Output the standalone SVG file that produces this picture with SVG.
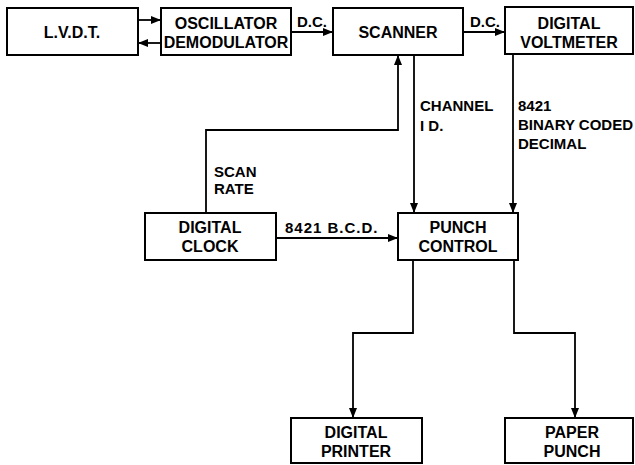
<svg xmlns="http://www.w3.org/2000/svg" width="635" height="465" viewBox="0 0 635 465">
<defs>
<marker id="ah" markerWidth="10" markerHeight="8" refX="9" refY="4" orient="auto" markerUnits="userSpaceOnUse">
<path d="M0,0 L10,4 L0,8 Z" fill="#000"/>
</marker>
<style>
.box{fill:#fff;stroke:#000;stroke-width:2}
.t{font-family:"Liberation Sans",Arial,sans-serif;font-weight:bold;font-size:16px;text-anchor:middle;fill:#000}
.l{font-family:"Liberation Sans",Arial,sans-serif;font-weight:bold;font-size:15px;fill:#000}
.c{fill:none;stroke:#000;stroke-width:1.8}
</style>
</defs>
<rect width="635" height="465" fill="#fff"/>
<g id="connectors">
<path class="c" d="M138,20 H160" marker-end="url(#ah)"/>
<path class="c" d="M161,43 H139" marker-end="url(#ah)"/>
<path class="c" d="M291,32 H332" marker-end="url(#ah)"/>
<path class="c" d="M463,32 H504" marker-end="url(#ah)"/>
<path class="c" d="M206,213 V130 H398 V56" marker-end="url(#ah)"/>
<path class="c" d="M414,55 V212" marker-end="url(#ah)"/>
<path class="c" d="M513,54 V212" marker-end="url(#ah)"/>
<path class="c" d="M276,238 H397" marker-end="url(#ah)"/>
<path class="c" d="M413,260 V333 H353 V417" marker-end="url(#ah)"/>
<path class="c" d="M514,260 V333 H575 V417" marker-end="url(#ah)"/>
<text class="l" x="297" y="27">D.C.</text>
<text class="l" x="470" y="27">D.C.</text>
<text class="l" x="420" y="111">CHANNEL</text>
<text class="l" x="420" y="131">I D.</text>
<text class="l" x="518" y="111">8421</text>
<text class="l" x="518" y="130">BINARY CODED</text>
<text class="l" x="518" y="149">DECIMAL</text>
<text class="l" x="214" y="177">SCAN</text>
<text class="l" x="214" y="194">RATE</text>
<text class="l" x="285" y="233" letter-spacing="1">8421 B.C.D.</text>
</g>
<g id="lvdt">
<rect class="box" x="7" y="8" width="131" height="47"/>
<text class="t" x="72" y="38">L.V.D.T.</text>
</g>
<g id="oscillator">
<rect class="box" x="161" y="8" width="130" height="47"/>
<text class="t" x="226" y="29">OSCILLATOR</text>
<text class="t" x="226" y="48">DEMODULATOR</text>
</g>
<g id="scanner">
<rect class="box" x="333" y="8" width="130" height="47"/>
<text class="t" x="398" y="38">SCANNER</text>
</g>
<g id="voltmeter">
<rect class="box" x="505" y="7" width="128" height="47"/>
<text class="t" x="569" y="29">DIGITAL</text>
<text class="t" x="569" y="48">VOLTMETER</text>
</g>
<g id="clock">
<rect class="box" x="145" y="213" width="131" height="47"/>
<text class="t" x="210" y="233">DIGITAL</text>
<text class="t" x="210" y="252">CLOCK</text>
</g>
<g id="punchcontrol">
<rect class="box" x="398" y="213" width="120" height="47"/>
<text class="t" x="458" y="233">PUNCH</text>
<text class="t" x="458" y="252">CONTROL</text>
</g>
<g id="printer">
<rect class="box" x="291" y="418" width="131" height="45"/>
<text class="t" x="356" y="438">DIGITAL</text>
<text class="t" x="356" y="457">PRINTER</text>
</g>
<g id="paperpunch">
<rect class="box" x="505" y="418" width="128" height="45"/>
<text class="t" x="572" y="438">PAPER</text>
<text class="t" x="572" y="457">PUNCH</text>
</g>
</svg>
